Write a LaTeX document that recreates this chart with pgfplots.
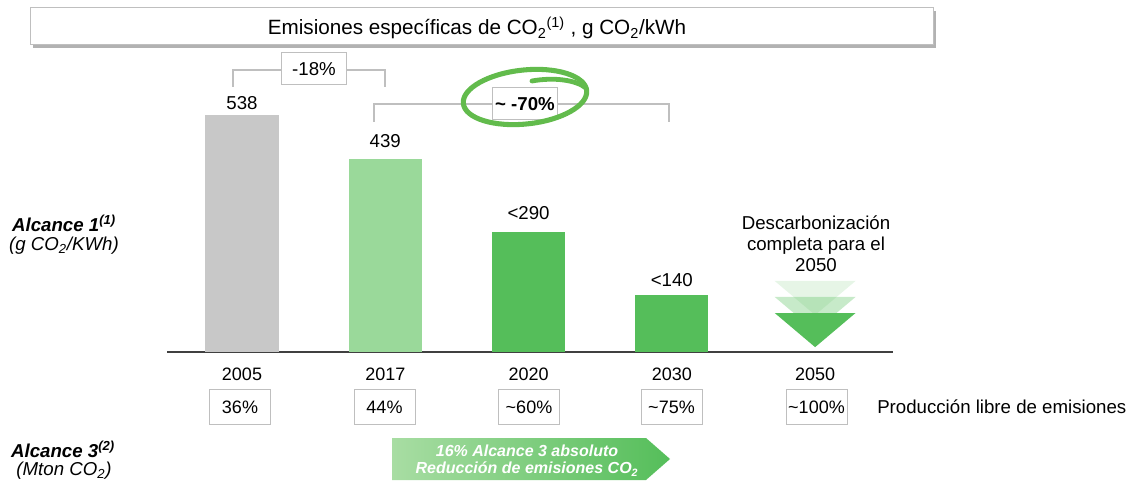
\documentclass[border=0pt]{standalone}
\usepackage{pgfplots}
\pgfplotsset{compat=1.18}
\usepackage{fontspec}
\setmainfont{Liberation Sans}
\definecolor{grayb}{HTML}{C8C8C8}
\definecolor{lgreen}{HTML}{9AD99A}
\definecolor{mgreen}{HTML}{55BE5A}
\definecolor{boxgray}{HTML}{BFBFBF}
\definecolor{circ}{HTML}{62BB4C}
\definecolor{agreenl}{HTML}{A8DDA3}
\newcommand{\fs}[2]{\fontsize{#1}{#2}\selectfont}
\begin{document}
\begin{tikzpicture}
\useasboundingbox (0pt,0pt) rectangle (851.25pt,361.5pt);

\begin{axis}[at={(181.5pt,97.5pt)}, anchor=origin, scale only axis,
  width=543.75pt, height=177.75pt,
  xmin=-0.52, xmax=4.54, ymin=0, ymax=538,
  axis x line*=bottom, axis y line=none,
  x axis line style={draw=black!75, line width=1.1pt},
  xtick={0,1,2,3,4}, xticklabels={2005,2017,2020,2030,2050},
  major tick length=0pt,
  xticklabel style={anchor=base, yshift=-21pt, font=\fs{13.5}{16}},
  /pgf/number format/assume math mode=true,
  clip=false]
\addplot[ybar, bar width=0.51, bar shift=0pt, fill=grayb, draw=none,
  nodes near coords, point meta=explicit symbolic,
  every node near coord/.append style={anchor=base, inner sep=0pt, yshift=4.5pt, font=\fs{14}{16}}]
  coordinates {(0,538)[538]};
\addplot[ybar, bar width=0.51, bar shift=0pt, fill=lgreen, draw=none,
  nodes near coords, point meta=explicit symbolic,
  every node near coord/.append style={anchor=base, inner sep=0pt, yshift=8.6pt, font=\fs{14}{16}}]
  coordinates {(1,439)[439]};
\addplot[ybar, bar width=0.51, bar shift=0pt, fill=mgreen, draw=none,
  nodes near coords, point meta=explicit symbolic,
  every node near coord/.append style={anchor=base, inner sep=0pt, yshift=9.4pt, font=\fs{14}{16}}]
  coordinates {(2,272)[{<290}]};
\addplot[ybar, bar width=0.51, bar shift=0pt, fill=mgreen, draw=none,
  nodes near coords, point meta=explicit symbolic,
  every node near coord/.append style={anchor=base, inner sep=0pt, yshift=6.4pt, font=\fs{14}{16}}]
  coordinates {(3,130)[{<140}]};
% fading triangles for 2050
\addplot[fill=mgreen, fill opacity=0.15, draw=none] coordinates {(3.718,161.2) (4.282,161.2) (4,84)} -- cycle;
\addplot[fill=mgreen, fill opacity=0.33, draw=none] coordinates {(3.718,124.9) (4.282,124.9) (4,47.7)} -- cycle;
\addplot[fill=mgreen, draw=none] coordinates {(3.718,88.5) (4.282,88.5) (4,11)} -- cycle;
\end{axis}

\begin{scope}[x=0.75pt,y=0.75pt]
% title box
\fill[black!30] (33,434) rectangle (936,471);
\filldraw[fill=white, draw=boxgray, line width=0.75pt] (30,437) rectangle (933,474);
\node[font=\fs{15.5}{18}] at (477,454) {Emisiones específicas de CO\textsubscript{2}\textsuperscript{(1)} , g CO\textsubscript{2}/kWh};

% 2050 text
\node[font=\fs{14}{15.75}, align=center] at (816,238) {Descarbonización\\completa para el\\2050};

% -18% bracket
\draw[boxgray, line width=0.9pt] (233,395) -- (233,412) -- (385,412) -- (385,395);
\node[draw=boxgray, fill=white, line width=0.75pt, minimum width=48.75pt, minimum height=24pt, inner sep=1pt, font=\fs{14}{16}] at (314,413) {-18\%};
% -70% bracket
\draw[boxgray, line width=0.9pt] (374,360) -- (374,378) -- (669,378) -- (669,360);
\node[draw=boxgray, fill=white, line width=0.75pt, minimum width=48.75pt, minimum height=24pt, inner sep=1pt, font=\bfseries\fs{14}{16}] at (525,378) {\textasciitilde{} -70\%};
% green hand-drawn circle
\draw[circ, line width=3.8pt, rotate around={6:(525,385)}] (525,385) ellipse [x radius=62, y radius=27];
\draw[circ, line width=3.6pt, line cap=round] (532,401) .. controls (554,405) and (576,402) .. (586,394);

% left labels
\node[font=\bfseries\itshape\fs{14}{16}, inner sep=0pt] at (64,259) {Alcance 1\textsuperscript{(1)}};
\node[font=\itshape\fs{14}{16}, inner sep=0pt] at (64,236) {(g CO\textsubscript{2}/KWh)};
\node[font=\bfseries\itshape\fs{14}{16}, inner sep=0pt] at (63,33) {Alcance 3\textsuperscript{(2)}};
\node[font=\itshape\fs{14}{16}, inner sep=0pt] at (64,11) {(Mton CO\textsubscript{2})};

% share boxes
\foreach \xx/\tt in {240/36\%, 384.5/44\%, 529/\textasciitilde60\%, 671.5/\textasciitilde75\%, 816.5/\textasciitilde100\%}{
  \node[draw=boxgray, line width=0.75pt, minimum width=45.75pt, minimum height=26pt, inner sep=1pt, font=\fs{13.5}{16}] at (\xx,75) {\tt};
}
\node[anchor=west, font=\fs{14}{16}, inner sep=0pt] at (877,75) {Producción libre de emisiones};

% Alcance 3 arrow
\shade[left color=agreenl, right color=mgreen] (392,44) -- (646,44) -- (670,23) -- (646,2) -- (392,2) -- cycle;
\node[text=white, font=\bfseries\itshape\fs{12}{14}] at (527,31) {16\% Alcance 3 absoluto};
\node[text=white, font=\bfseries\itshape\fs{12}{14}] at (527,13) {Reducción de emisiones CO\textsubscript{2}};
\end{scope}
\end{tikzpicture}
\end{document}
